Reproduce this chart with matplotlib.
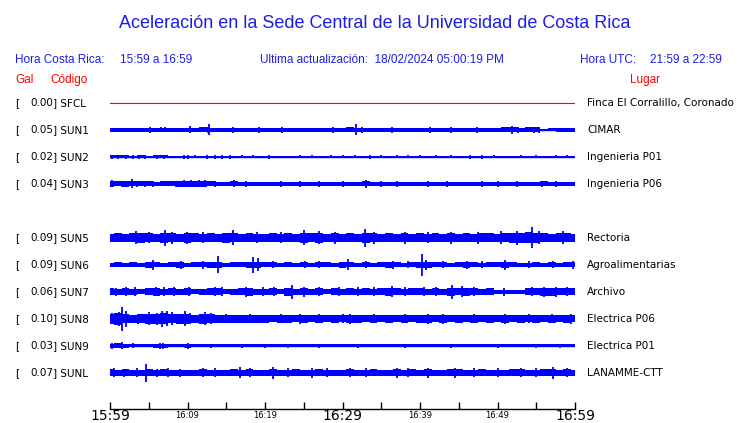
import matplotlib
matplotlib.use("Agg")
import matplotlib.pyplot as plt

# estaciones (de arriba a abajo)
codes = ["SFCL", "SUN1", "SUN2", "SUN3", "SUN5", "SUN6", "SUN7", "SUN8", "SUN9", "SUNL"]
gal = [0.00, 0.05, 0.02, 0.04, 0.09, 0.09, 0.06, 0.10, 0.03, 0.07]
places = ["Finca El Corralillo, Coronado", "CIMAR", "Ingenieria P01", "Ingenieria P06",
          "Rectoria", "Agroalimentarias", "Archivo", "Electrica P06", "Electrica P01",
          "LANAMME-CTT"]
rows = [0, 1, 2, 3, 5, 6, 7, 8, 9, 10]

# envolvente (semi-amplitud) por minuto desde 15:59 (61 valores)
env_t = list(range(61))
env_sfcl = [0] * 61
env_sun1 = [2, 2, 2, 2, 2, 2.2, 2.2, 2.2, 2, 2,
            2.2, 2, 2.5, 2, 2, 2, 2.2, 2, 2, 2,
            2, 2, 2.2, 2, 2, 2, 2, 2, 2, 2,
            2, 2.5, 2.2, 2, 2, 2, 2.2, 2, 2, 2,
            2, 2.2, 2, 2, 2, 2, 2, 2.2, 2, 2,
            2, 2.5, 2.5, 2.2, 2.5, 2.5, 1.2, 1.5, 2, 2,
            2]
env_sun2 = [1.5, 1.5, 1.5, 1.3, 1.5, 1.3, 1.5, 1.5, 0.8, 1.3,
            1.3, 0.8, 1.3, 1.3, 1.3, 1.3, 0.8, 0.8, 0.8, 0.8,
            0.8, 0.8, 0.8, 0.8, 0.8, 0.8, 0.8, 0.8, 0.8, 0.8,
            0.8, 0.8, 0.8, 0.8, 0.8, 0.8, 0.8, 0.8, 0.8, 0.8,
            0.8, 0.8, 0.8, 0.8, 0.8, 0.8, 0.8, 0.8, 0.8, 0.8,
            0.8, 0.8, 0.8, 0.8, 0.8, 0.8, 0.8, 0.8, 0.8, 0.8,
            0.8]
env_sun3 = [3, 2.5, 3, 2.5, 2.5, 2.5, 2.2, 2.5, 2.5, 3,
            3, 3, 3, 2.5, 2.2, 2.2, 2.5, 2.2, 2.2, 2.2,
            2.2, 2.2, 2.2, 2.2, 2.2, 2.2, 2.2, 2.2, 2.2, 2.2,
            2.2, 2.2, 2.2, 2.5, 2.2, 2.2, 2.2, 2.2, 2.2, 2.2,
            2.2, 2.2, 2.2, 2.2, 2.2, 2.2, 2.2, 2.2, 2.2, 2.2,
            2.2, 2.2, 2.2, 2.2, 2.2, 2.2, 2.5, 2.2, 2.2, 2.2,
            2.2]
env_sun5 = [4, 4.5, 4, 4.5, 5, 4.5, 4, 5, 4.5, 4,
            5, 4.5, 4, 4.5, 4, 5, 4.5, 4, 4.5, 4,
            4, 4.5, 4, 4.5, 4, 5, 4.5, 5, 4, 4.5,
            4, 4.5, 4, 5, 4.5, 4, 4.5, 4, 4.5, 4,
            4.5, 4, 4.5, 4, 4.5, 4, 4.5, 4, 4.5, 4.5,
            4, 4.5, 5, 5, 5.5, 5, 4.5, 4, 4.5, 4.5,
            4]
env_sun6 = [2, 2.5, 2, 2.5, 2, 3, 2.5, 2, 2.5, 3,
            2, 2.5, 2.5, 3, 3, 2, 2.5, 2.5, 3, 3,
            2.5, 2.5, 2, 2.5, 2, 2.5, 2, 2.5, 2.5, 2,
            3, 2.5, 2, 2.5, 2, 2.5, 3, 2.5, 2, 2.5,
            3, 3, 2.5, 2.5, 2, 2.5, 3, 2.5, 2, 2.5,
            2.5, 3, 2.5, 2, 2, 2.5, 2, 2.5, 2, 2.5,
            2.5]
env_sun7 = [3.5, 3, 3.5, 3, 2.5, 3.5, 4, 3, 3.5, 3,
            3.5, 2.5, 3, 3.5, 3.5, 2.5, 3, 3.5, 4, 3,
            3, 3.5, 2.5, 4, 3, 3.5, 3, 3.5, 2.5, 3.5,
            3, 3.5, 3, 3.5, 3, 3.5, 4, 3.5, 3, 3.5,
            3.5, 3, 3.5, 3, 4, 3.5, 4, 3.5, 3, 3.5,
            2, 2, 2, 2, 3.5, 3.5, 4, 4, 3.5, 3.5,
            3.5]
env_sun8 = [5, 6, 4.5, 4, 4.5, 5, 5, 5.5, 4.5, 5,
            5, 4, 5, 4.5, 4, 4, 4, 4, 4, 4,
            4, 3.5, 4, 4, 3.5, 4, 3.5, 4, 3.5, 4,
            3.5, 4, 4, 3.5, 4, 3.5, 4, 3.5, 4, 3.5,
            4, 4, 3.5, 4, 3.5, 4, 3.5, 4, 3.5, 4,
            3.5, 4, 3.5, 4, 3.5, 4, 3.5, 4, 3.5, 4,
            3.5]
env_sun9 = [2, 2.5, 2, 1.5, 1.5, 1.5, 2, 2, 1.5, 1.5,
            2, 1.5, 1.5, 1.5, 1.5, 1.5, 1.5, 1.5, 1.5, 1.5,
            1.5, 1.5, 1.5, 1.5, 1.5, 1.5, 1.5, 1.5, 1.5, 1.5,
            1.5, 1.5, 1.5, 1.5, 1.5, 1.5, 1.5, 1.5, 1.5, 1.5,
            1.5, 1.5, 1.5, 1.5, 1.5, 1.5, 1.5, 1.5, 1.5, 1.5,
            1.5, 1.5, 1.5, 1.5, 1.5, 1.5, 1.5, 1.5, 1.5, 1.5,
            1.5]
env_sunl = [3.5, 3, 3.5, 3, 3, 3.5, 3, 3.5, 3, 3,
            3, 3, 3.5, 3, 3, 3, 3.5, 3, 3.5, 3,
            3, 3.5, 3, 3, 3.5, 3, 3, 3.5, 3, 3,
            3, 3.5, 3, 3, 3.5, 3, 3, 3.5, 3, 3.5,
            3, 3.5, 3, 3, 3.5, 3.5, 3, 3, 3.5, 3,
            3, 3, 3.5, 3.5, 3, 3, 3.5, 3.5, 3, 3.5,
            3]

# picos (minuto, semi-amplitud)
spk_sfcl = []
spk_sun1 = [(5.2, 2.8), (6.6, 2.5), (7.1, 2.5), (10.3, 3.5), (12.6, 3), (12.8, 5.5), (15.9, 2.8),
            (19.2, 2.8), (22.2, 2.8), (28.8, 2.8), (31.7, 5.5), (32.5, 3), (36.4, 2.8),
            (41.3, 2.8), (44, 2.6), (47.4, 2.8), (51.9, 4), (52.6, 3), (54.7, 3), (55.4, 3)]
spk_sun2 = [(0.3, 2), (1, 1.8), (2, 2), (3, 1.8), (3.8, 2), (4.5, 1.7), (6, 1.8), (7, 1.8),
            (9.5, 1.8), (10, 2), (11, 1.5), (12.5, 1.8), (13.5, 1.8), (14.5, 1.8), (15.5, 1.8),
            (17, 1.5), (18.5, 1.5), (20.5, 1.8), (24.5, 1.5), (26, 1.5), (28.5, 1.5), (30, 1.5),
            (31.6, 1.5), (33.5, 1.8), (35, 1.5), (37, 1.5), (38.5, 1.5), (40, 1.5), (42, 1.5),
            (44, 1.5), (46.5, 1.8), (48, 1.8), (49.5, 1.5), (53, 1.5), (55, 1.5), (57.5, 1.5),
            (59, 1.5)]
spk_sun3 = [(0.3, 3.5), (1.5, 3), (2.8, 4.5), (3.5, 3), (4.5, 3), (5.5, 3), (8.5, 3), (9.5, 3.5),
            (10.5, 3.5), (11.5, 3.5), (12.2, 3.5), (13.5, 3), (16, 3.5), (17.5, 3), (22, 2.8),
            (24.5, 3), (27, 2.8), (30, 3), (33, 4), (35, 2.8), (37, 2.8), (41, 2.8), (43.5, 2.8),
            (48, 3), (50, 2.8), (52.5, 2.8), (55.8, 3), (57.5, 3)]
spk_sun5 = [(3.4, 6.5), (5, 5.5), (7.1, 8), (8, 6), (9.9, 6), (12, 5.5), (15.9, 7.5), (19, 5.5),
            (22, 5.5), (25, 7.5), (27, 6.5), (29, 6), (32.9, 9), (34, 6), (38, 6), (41, 5.5),
            (44, 6), (47.5, 6), (50.5, 6.5), (52.5, 7), (54.5, 10.5), (55.3, 6.5), (58.5, 6.5)]
spk_sun6 = [(5.5, 5), (9.1, 4), (12, 4), (13.9, 8.5), (18.5, 8), (19.1, 6.5), (21, 3.5),
            (25.2, 3.5), (27, 3.5), (30.7, 5.5), (33, 3.5), (36.5, 4), (38.5, 3.5), (40.3, 11),
            (40.8, 5), (43, 3.5), (46, 4), (48, 3.5), (51, 5), (54, 3.5), (57.2, 3.5), (59.8, 4)]
spk_sun7 = [(0.8, 4), (2, 4.5), (3.2, 4.5), (5.9, 4.5), (7, 4.5), (8.3, 4.5), (10.2, 4.5),
            (13.6, 4.5), (14.5, 4.5), (17.5, 5), (19.8, 4.5), (21.2, 4.5), (23.5, 7), (25, 5),
            (27, 4.5), (29.5, 4.5), (32, 4.5), (34, 4.5), (36.4, 5.5), (38, 4.5), (40.5, 4.5),
            (42, 4.5), (44.1, 7), (45.4, 5.5), (47, 4.5), (50.8, 4), (54.5, 4.5), (56, 5),
            (57.5, 5), (59, 4.5)]
spk_sun8 = [(0.3, 5.5), (1.2, 7), (1.5, 12), (2, 8), (3.6, 5), (5, 6.5), (6, 6), (6.7, 8),
            (7.3, 7.5), (8, 6.5), (9.7, 7.5), (10.3, 5.5), (12.3, 6.5), (13, 5.5), (15, 4.5),
            (18, 4.5), (22, 4.5), (24.5, 5), (27, 4.5), (30, 4.5), (31, 5), (34, 4.5), (38, 4.5),
            (41, 5), (43, 5), (47, 4.5), (51, 5), (54, 4.5), (57, 4.5), (59.5, 5)]
spk_sun9 = [(0.3, 2.8), (1.5, 3.5), (3, 2.5), (6.5, 2.8), (6.8, 3), (10, 3), (13, 2.3), (17, 2.3),
            (20, 2.3), (23, 2.3), (27, 2.3), (32, 2.3), (38, 2.3), (44, 2.3), (50, 2.3), (55, 2.3),
            (58, 2.3)]
spk_sunl = [(0.5, 4.5), (1.8, 4), (3.5, 4.5), (4.7, 9), (6, 4), (7.5, 4.5), (9, 4), (12, 4.5),
            (13.5, 4.5), (16.8, 5.5), (18, 4.5), (21, 6), (23, 4.5), (26, 5), (28, 4.5), (31, 4.5),
            (33, 4.5), (37, 5), (38.5, 4.5), (41, 5), (44.5, 5), (47, 4.5), (50, 4.5), (53, 4.5),
            (55, 4.5), (57.2, 6), (59, 4.5)]

envs = [env_sfcl, env_sun1, env_sun2, env_sun3, env_sun5, env_sun6, env_sun7, env_sun8,
        env_sun9, env_sunl]
spikes = [spk_sfcl, spk_sun1, spk_sun2, spk_sun3, spk_sun5, spk_sun6, spk_sun7, spk_sun8,
          spk_sun9, spk_sunl]

tick_min = list(range(0, 61, 5))
tick_labels = {0: "15:59", 10: "16:09", 20: "16:19", 30: "16:29", 40: "16:39", 50: "16:49", 60: "16:59"}
big_ticks = [0, 30, 60]

BLUE = "#0000ff"
TXT_BLUE = "#1c1ce6"
RED = "#ff0000"
W, H = 740, 423

fig = plt.figure(figsize=(W / 100, H / 100), dpi=100)
ax = fig.add_axes([110 / W, 0, 465 / W, 1])
ax.set_xlim(0, 60)
ax.set_ylim(H, 0)
ax.axis("off")


def fy(py):
    return 1 - py / H


# titulo y encabezados
fig.text(375 / W, fy(23), "Aceleración en la Sede Central de la Universidad de Costa Rica",
         ha="center", va="center", color=TXT_BLUE, fontsize=13, family="Liberation Sans")
hdr = dict(va="center", color=TXT_BLUE, fontsize=8.5, family="Liberation Sans")
fig.text(15 / W, fy(60), "Hora Costa Rica:", **hdr)
fig.text(120 / W, fy(60), "15:59 a 16:59", **hdr)
fig.text(260 / W, fy(60), "Ultima actualización:  18/02/2024 05:00:19 PM", **hdr)
fig.text(580 / W, fy(60), "Hora UTC:", **hdr)
fig.text(650 / W, fy(60), "21:59 a 22:59", **hdr)
red = dict(va="center", color=RED, fontsize=8.5, family="Liberation Sans")
fig.text(15 / W, fy(80), "Gal", **red)
fig.text(50 / W, fy(80), "Código", **red)
fig.text(630 / W, fy(80), "Lugar", **red)

lab = dict(va="center", color="black", fontsize=7.5, family="DejaVu Sans")
for i, code in enumerate(codes):
    y0 = 103 + rows[i] * 27
    fig.text(15 / W, fy(y0), "[", **lab)
    fig.text(53 / W, fy(y0), f"{gal[i]:.2f}", ha="right", **lab)
    fig.text(53 / W, fy(y0), f"] {code}", **lab)
    fig.text(587 / W, fy(y0), places[i], **lab)

    env = envs[i]
    if max(env) == 0:
        ax.plot([0, 60], [y0, y0], color=RED, lw=0.8)
        continue
    ax.fill_between(env_t, [y0 - a for a in env], [y0 + a for a in env],
                    step="mid", color=BLUE, lw=0)
    ax.plot([0, 60], [y0, y0], color=BLUE, lw=1)
    if spikes[i]:
        t = [s[0] for s in spikes[i]]
        a = [s[1] for s in spikes[i]]
        ax.vlines(t, [y0 - v for v in a], [y0 + v for v in a], color=BLUE, lw=1.3)

# eje de tiempo
ax.plot([0, 60], [409, 409], color="black", lw=1, clip_on=False)
ax.vlines(tick_min, 402, 409, color="black", lw=1, clip_on=False)
for m, s in tick_labels.items():
    ax.text(m, 416, s, ha="center", va="center", family="DejaVu Sans",
            fontsize=10 if m in big_ticks else 6, clip_on=False)

fig.savefig("out.png", dpi=100)
